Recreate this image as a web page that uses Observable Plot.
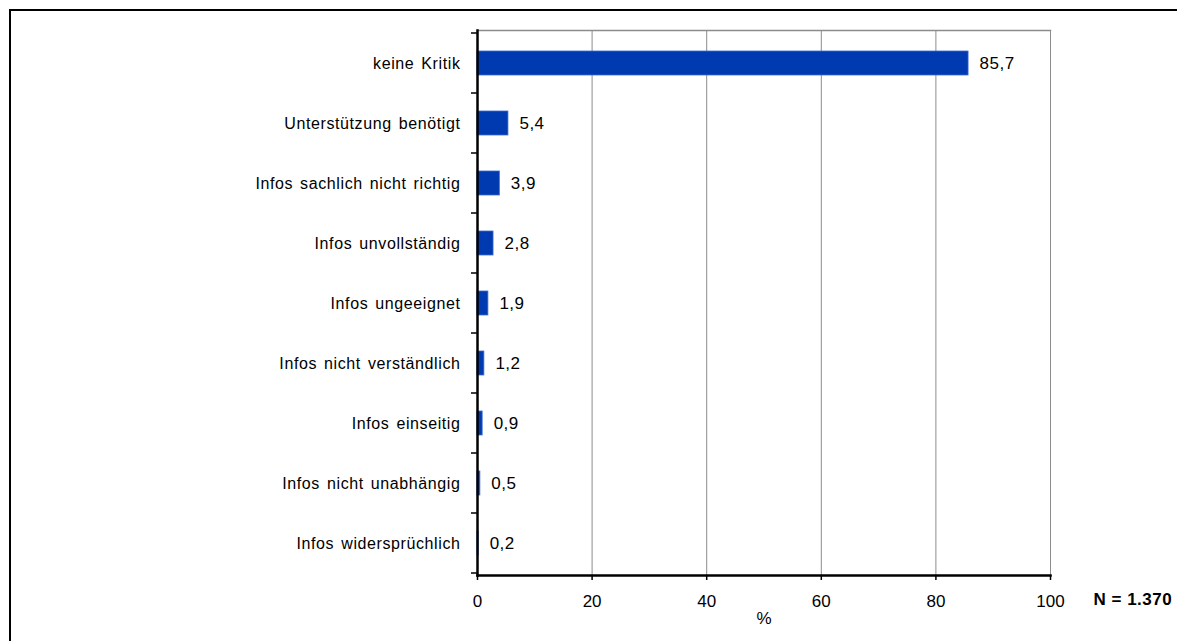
<!DOCTYPE html>
<html>
<head>
<meta charset="utf-8">
<script src="https://cdn.jsdelivr.net/npm/d3@7"></script>
<script src="https://cdn.jsdelivr.net/npm/@observablehq/plot@0.6"></script>
<style>
  html, body { margin: 0; padding: 0; background: #fff; width: 1177px; height: 641px; overflow: hidden; }
  #chart { position: absolute; left: 0; top: 0; }
  #frame { position: absolute; left: 9px; top: 9px; width: 1300px; height: 700px;
           border-left: 2px solid #000; border-top: 2px solid #000; pointer-events: none; }
  #chart g[aria-label="y-axis tick label"] text { letter-spacing: 0.6px; word-spacing: 2px; }
  #chart g[aria-label="text"] text { letter-spacing: 0.5px; }
</style>
</head>
<body>
<div id="chart"></div>
<div id="frame"></div>
<script>
const categories = [
  "keine Kritik",
  "Unterstützung benötigt",
  "Infos sachlich nicht richtig",
  "Infos unvollständig",
  "Infos ungeeignet",
  "Infos nicht verständlich",
  "Infos einseitig",
  "Infos nicht unabhängig",
  "Infos widersprüchlich"
];
const values = [85.7, 5.4, 3.9, 2.8, 1.9, 1.2, 0.9, 0.5, 0.2];
const xTicks = [0, 20, 40, 60, 80, 100];
const xLabel = "%";
const nLabel = "N = 1.370";

const data = categories.map((c, i) => ({cat: c, value: values[i]}));
const fmt = v => v.toFixed(1).replace(".", ",");

const plot = Plot.plot({
  width: 1177,
  height: 641,
  marginLeft: 477,
  marginRight: 127,
  marginTop: 30,
  marginBottom: 66,
  style: {fontFamily: "'Liberation Sans', Arial, sans-serif", fontSize: "16px", color: "#000", background: "transparent"},
  x: {domain: [0, 100]},
  y: {domain: categories, paddingInner: 0.6, paddingOuter: 0.3},
  marks: [
    Plot.ruleX(xTicks.filter(t => t > 0), {stroke: "#8c8c8c", strokeWidth: 1, strokeOpacity: 1}),
    Plot.frame({anchor: "top", stroke: "#8c8c8c", strokeWidth: 1.5}),
    Plot.barX(data, {x: "value", y: "cat", fill: "#003AB0", stroke: "#3F6CD0", strokeWidth: 0.8}),
    Plot.text(data, {x: "value", y: "cat", text: d => fmt(d.value), dx: 11, textAnchor: "start", fontSize: 17, fill: "#000"}),
    Plot.axisY({tickSize: 0, tickPadding: 17, fontSize: 16, label: null}),
    Plot.axisX({ticks: xTicks, tickSize: 5, tickPadding: 14, fontSize: 17, label: xLabel, labelAnchor: "center", labelArrow: "none", labelOffset: 48, strokeWidth: 1.5}),
    Plot.frame({anchor: "left", stroke: "#000", strokeWidth: 2.5}),
    Plot.frame({anchor: "bottom", stroke: "#000", strokeWidth: 2.5}),
    Plot.text([nLabel], {frameAnchor: "bottom-right", dx: 43, dy: 29, textAnchor: "start", fontSize: 17, fontWeight: "bold", fill: "#000"})
  ]
});

document.getElementById("chart").appendChild(plot);

// category boundary ticks on the left axis, placed through the plot's own scales
const ys = plot.scale("y");
const xs = plot.scale("x");
const x0 = xs.apply(0);
const off = (ys.step - ys.bandwidth) / 2;
const bounds = categories.map(c => ys.apply(c) - off);
bounds.push(ys.apply(categories[categories.length - 1]) + ys.bandwidth + off);
d3.select(plot).append("g")
  .attr("stroke", "#000").attr("stroke-width", 1.5)
  .selectAll("line").data(bounds).join("line")
  .attr("x1", x0 - 6).attr("x2", x0)
  .attr("y1", d => d).attr("y2", d => d);
</script>
</body>
</html>
